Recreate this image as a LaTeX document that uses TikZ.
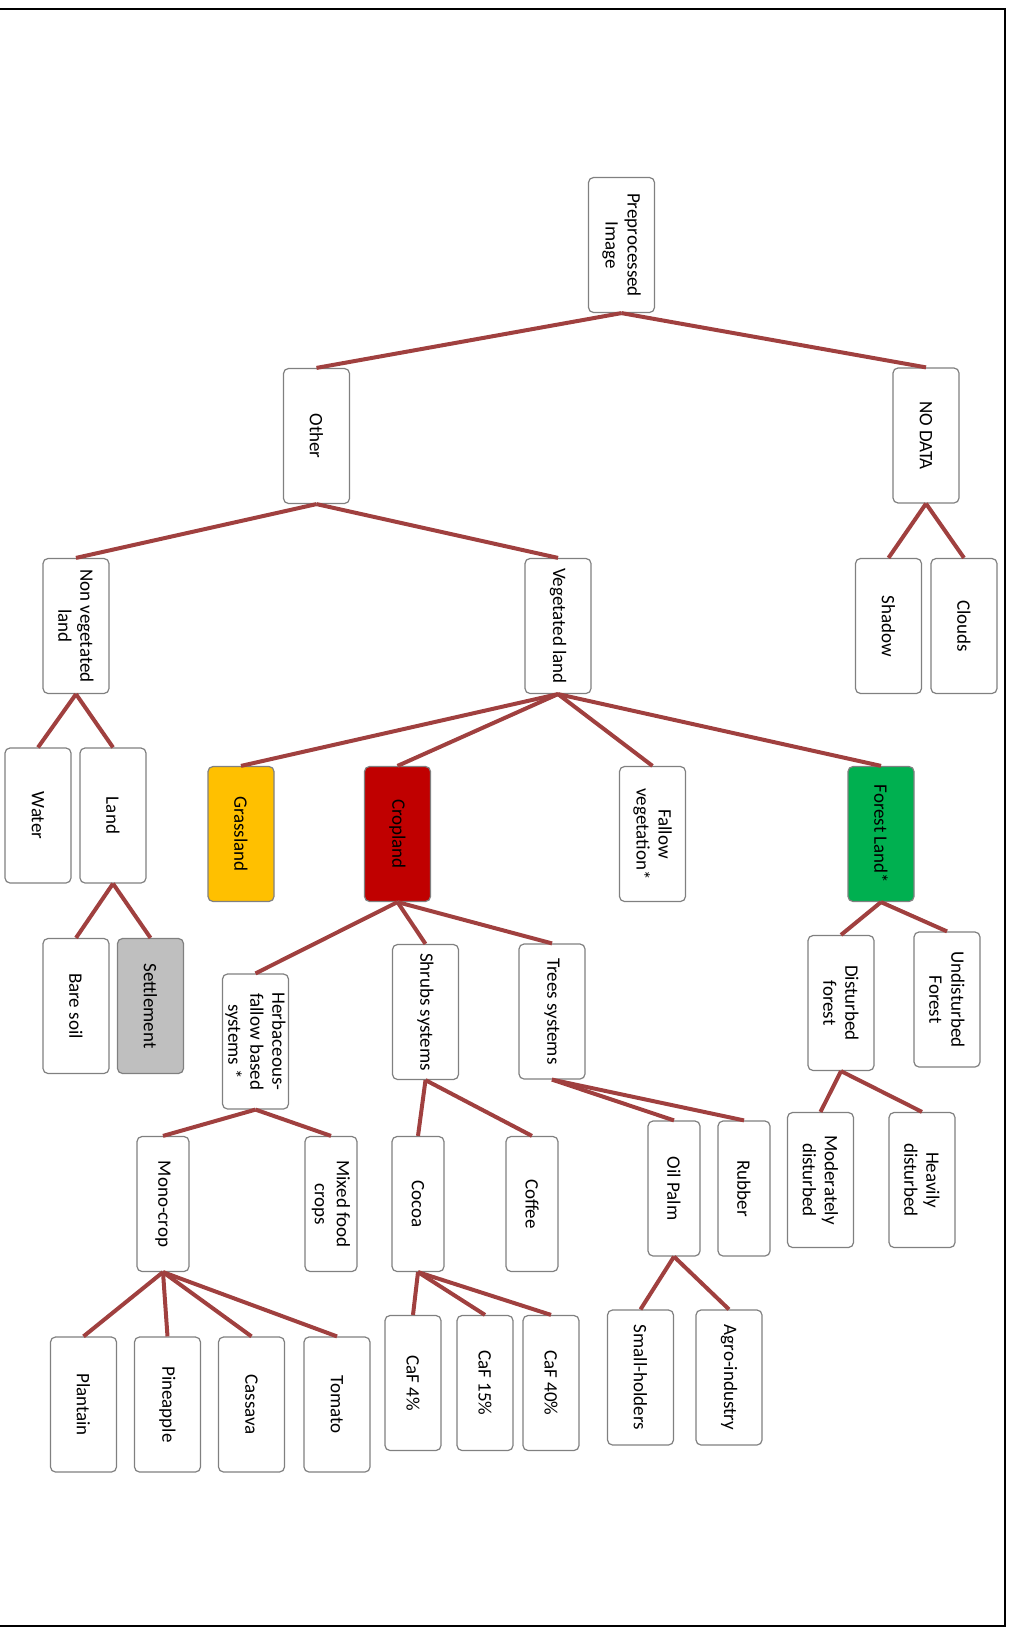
\documentclass[tikz,border=0pt]{standalone}
\usepackage{fontspec}
\setmainfont{Carlito}
\definecolor{linkred}{HTML}{A0403F}
\definecolor{boxgray}{HTML}{808080}
\definecolor{grassy}{HTML}{FFC000}
\definecolor{cropred}{HTML}{C00000}
\definecolor{forestgreen}{HTML}{00B050}
\definecolor{settlegray}{HTML}{BFBFBF}
\tikzset{
  box/.style={draw=boxgray, line width=0.6pt, fill=white, rounded corners=2.5pt,
    rotate=-90, minimum width=67.5pt, minimum height=33pt, inner sep=1pt,
    align=center, font=\fontsize{9.5}{11}\selectfont, text=black},
  narrow/.style={minimum height=26pt},
  mid/.style={minimum height=28pt},
  link/.style={draw=linkred, line width=2pt},
}
\begin{document}
\begin{tikzpicture}[x=0.5pt,y=-0.5pt]
\useasboundingbox (0,0) rectangle (1013,1627);
\draw[line width=1pt,black] (0,9) -- (1005,9) -- (1005,1626) -- (0,1626);

\node[box] (pre) at (621.5,245) {Preprocessed\\Image};
\node[box] (nodata) at (926,435.5) {NO DATA};
\node[box] (other) at (316.5,436) {Other};
\node[box] (nonveg) at (76,626) {Non vegetated\\land};
\node[box] (veg) at (558,626) {Vegetated land};
\node[box] (shadow) at (888.5,626) {Shadow};
\node[box] (clouds) at (964,626) {Clouds};
\node[box] (water) at (38,815.5) {Water};
\node[box] (land) at (113,815.5) {Land};
\node[box,fill=grassy] (grass) at (241,834) {Grassland};
\node[box,fill=cropred] (crop) at (397.5,834) {Cropland};
\node[box] (fallow) at (652.5,834) {Fallow\\vegetation*};
\node[box,fill=forestgreen] (forest) at (881,834) {Forest Land*};
\node[box] (baresoil) at (76,1006) {Bare soil};
\node[box,fill=settlegray] (settle) at (150.5,1006) {Settlement};
\node[box] (herb) at (255.5,1041.5) {Herbaceous-\\fallow based\\systems *};
\node[box] (shrubs) at (425.5,1012) {Shrubs systems};
\node[box] (trees) at (552,1011.5) {Trees systems};
\node[box] (disturbed) at (841,1003) {Disturbed\\forest};
\node[box] (undisturbed) at (947,999.5) {Undisturbed\\Forest};
\node[box,narrow] (monocrop) at (163,1204) {Mono-crop};
\node[box,narrow] (mixed) at (331,1204) {Mixed food\\crops};
\node[box,narrow] (cocoa) at (418,1204) {Cocoa};
\node[box,narrow] (coffee) at (532,1204) {Coffee};
\node[box,narrow] (oilpalm) at (674,1188.5) {Oil Palm};
\node[box,narrow] (rubber) at (744,1188.5) {Rubber};
\node[box] (moderately) at (820.5,1180) {Moderately\\disturbed};
\node[box] (heavily) at (922,1180) {Heavily\\disturbed};
\node[box] (plantain) at (83.5,1404.5) {Plantain};
\node[box] (pineapple) at (167.5,1404.5) {Pineapple};
\node[box] (cassava) at (251.5,1404.5) {Cassava};
\node[box] (tomato) at (337,1404.5) {Tomato};
\node[box,mid] (caf4) at (413,1383) {CaF 4\%};
\node[box,mid] (caf15) at (485,1383) {CaF 15\%};
\node[box,mid] (caf40) at (551,1383) {CaF 40\%};
\node[box] (small) at (640.5,1377.5) {Small-holders};
\node[box] (agro) at (729,1377.5) {Agro-industry};

\foreach \p/\c in {pre/other, pre/nodata, other/nonveg, other/veg, nodata/shadow, nodata/clouds,
  nonveg/water, nonveg/land, veg/grass, veg/crop, veg/fallow, veg/forest,
  land/baresoil, land/settle, crop/herb, crop/shrubs, crop/trees,
  forest/disturbed, forest/undisturbed, herb/monocrop, herb/mixed,
  shrubs/cocoa, shrubs/coffee, trees/oilpalm, trees/rubber,
  disturbed/moderately, disturbed/heavily,
  monocrop/plantain, monocrop/pineapple, monocrop/cassava, monocrop/tomato,
  cocoa/caf4, cocoa/caf15, cocoa/caf40, oilpalm/small, oilpalm/agro}
  \draw[link] (\p.east) -- (\c.west);
\end{tikzpicture}
\end{document}
